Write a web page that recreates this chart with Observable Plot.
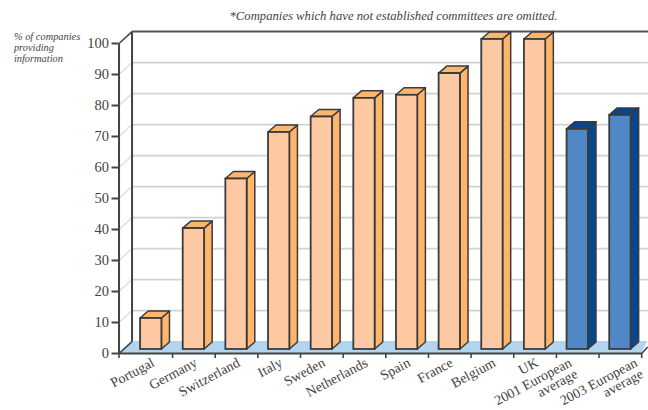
<!DOCTYPE html>
<html>
<head>
<meta charset="utf-8">
<script src="https://cdn.jsdelivr.net/npm/d3@7"></script>
<script src="https://cdn.jsdelivr.net/npm/@observablehq/plot@0.6"></script>
<style>
  html, body { margin: 0; padding: 0; background: #fff; }
  svg { display: block; overflow: visible; }
</style>
</head>
<body>
<div id="chart"></div>
<script>
// Share of companies providing information on their committees, by country.
const categories = ["Portugal", "Germany", "Switzerland", "Italy", "Sweden", "Netherlands",
  "Spain", "France", "Belgium", "UK", "2001 European\naverage", "2003 European\naverage"];
const values = [10, 39, 55, 70, 75, 81, 82, 89, 100, 100, 71, 75.5];
const averages = ["2001 European\naverage", "2003 European\naverage"];
const valueTicks = d3.range(0, 101, 10);
const note = "*Companies which have not established committees are omitted.";
const unitLabel = "% of companies\nproviding\ninformation";

const serif = "'Liberation Serif', serif";
const ink = "#444";

// Pseudo-3D geometry, in scale units (one x unit = one category band).
const wallX = 0.305, wallY = 3.85;    // depth of the chart box
const barX = 0.19, barY = 2.26;       // depth of each bar
const lift = 1.3;                     // bars stand slightly behind the front edge
const frontX = -0.255;                // x of the front-left corner of the box
const endX = 12;                      // x of the front-right corner of the box
const farX = endX + 0.14;             // the floor and back wall are cut off by the page edge

const bars = categories.map((name, i) => ({
  name, value: values[i], left: i + 0.25, right: i + 0.75, avg: averages.includes(name)
}));
const front = d => d.avg ? "#4f87c7" : "#fdc9a3";
const side = d => d.avg ? "#05488f" : "#fdb66c";

// Right and top faces are parallelograms traced as two-point areas.
const rightFaces = bars.flatMap(d => [
  {...d, x: d.right, y1: lift, y2: lift + d.value},
  {...d, x: d.right + barX, y1: lift + barY, y2: lift + d.value + barY}
]);
const topFaces = bars.flatMap(d => [
  {...d, y: lift + d.value, x1: d.left, x2: d.right},
  {...d, y: lift + d.value + barY, x1: d.left + barX, x2: d.right + barX}
]);
const floor = [
  {y: 0, x1: frontX, x2: endX},
  {y: wallY, x1: frontX + wallX, x2: farX}
];
const labelEnd = (d, i) => i === 10 ? 10.28 : i === 11 ? 11.82 : i + 0.5;
const backLeft = frontX + wallX;

const chart = Plot.plot({
  width: 648, height: 410,
  marginLeft: 118.5, marginRight: 7, marginTop: 43, marginBottom: 57,
  style: {background: "#fff", color: ink, fontFamily: serif},
  x: {type: "linear", domain: [0, 12], range: [129.4, 641.2]},
  y: {type: "linear", domain: [0, 100], range: [353, 43]},
  marks: [
    // Back wall grid and its return along the side wall
    Plot.link(valueTicks.filter(v => v > 0 && v < 100), {
      x1: backLeft, x2: farX, y1: v => v + wallY, y2: v => v + wallY,
      stroke: "#d2d2d2", strokeWidth: 1.8
    }),
    Plot.link(valueTicks.filter(v => v > 0 && v < 100), {
      x1: frontX, x2: backLeft, y1: v => v, y2: v => v + wallY,
      stroke: "#dcdcdc", strokeWidth: 1.2
    }),
    // Floor
    Plot.areaX(floor, {y: "y", x1: "x1", x2: "x2", fill: "#b3d4ef", curve: "linear"}),
    // Box edges
    Plot.link([0], {x1: backLeft, x2: backLeft, y1: wallY, y2: 100 + wallY, stroke: ink, strokeWidth: 2}),
    Plot.link([0], {x1: backLeft, x2: farX + 0.1, y1: 100 + wallY, y2: 100 + wallY, stroke: "#555", strokeWidth: 2}),
    Plot.link([0], {x1: frontX, x2: backLeft, y1: 100, y2: 100 + wallY, stroke: ink, strokeWidth: 1.6}),
    Plot.link([0], {x1: frontX, x2: backLeft, y1: 0, y2: wallY, stroke: ink, strokeWidth: 1.6}),
    Plot.link([0], {x1: endX, x2: farX, y1: 0, y2: wallY * 0.55, stroke: ink, strokeWidth: 1.6}),
    // Bars
    Plot.areaY(rightFaces, {x: "x", y1: "y1", y2: "y2", z: "name", fill: side, stroke: "#3d3a38", strokeWidth: 1.5, curve: "linear"}),
    Plot.areaX(topFaces, {y: "y", x1: "x1", x2: "x2", z: "name", fill: side, stroke: "#3d3a38", strokeWidth: 1.5, curve: "linear"}),
    Plot.rect(bars, {x1: "left", x2: "right", y1: lift, y2: d => lift + d.value, fill: front, stroke: "#3d3a38", strokeWidth: 1.8}),
    // Front axes
    Plot.link([0], {x1: frontX, x2: frontX, y1: 0, y2: 100, stroke: ink, strokeWidth: 2}),
    Plot.link([0], {x1: frontX, x2: endX, y1: 0, y2: 0, stroke: ink, strokeWidth: 2}),
    Plot.axisY({
      ticks: valueTicks, tickSize: 7, tickPadding: 3, strokeWidth: 2, stroke: ink,
      fontSize: 14.5, label: null, fill: ink
    }),
    Plot.axisX({
      ticks: [frontX, ...d3.range(1, 13)], tickSize: 5, strokeWidth: 1.6, stroke: ink,
      tickFormat: () => "", label: null
    }),
    // Category labels
    Plot.text(bars, {
      x: labelEnd, y: 0, text: "name", rotate: -28, textAnchor: "end", lineAnchor: "top",
      dy: 4, fontSize: 14, lineHeight: 0.92, fill: ink
    }),
    // Annotations
    Plot.text([note], {
      x: 6.18, y: 109, text: d => d, fontSize: 12.7, fontStyle: "italic", fill: ink
    }),
    Plot.text([unitLabel], {
      x: -2.72, y: 103.8, text: d => d, textAnchor: "start", lineAnchor: "top",
      fontSize: 10.4, fontStyle: "italic", fill: ink, lineHeight: 1.08
    })
  ]
});
document.getElementById("chart").append(chart);
</script>
</body>
</html>
